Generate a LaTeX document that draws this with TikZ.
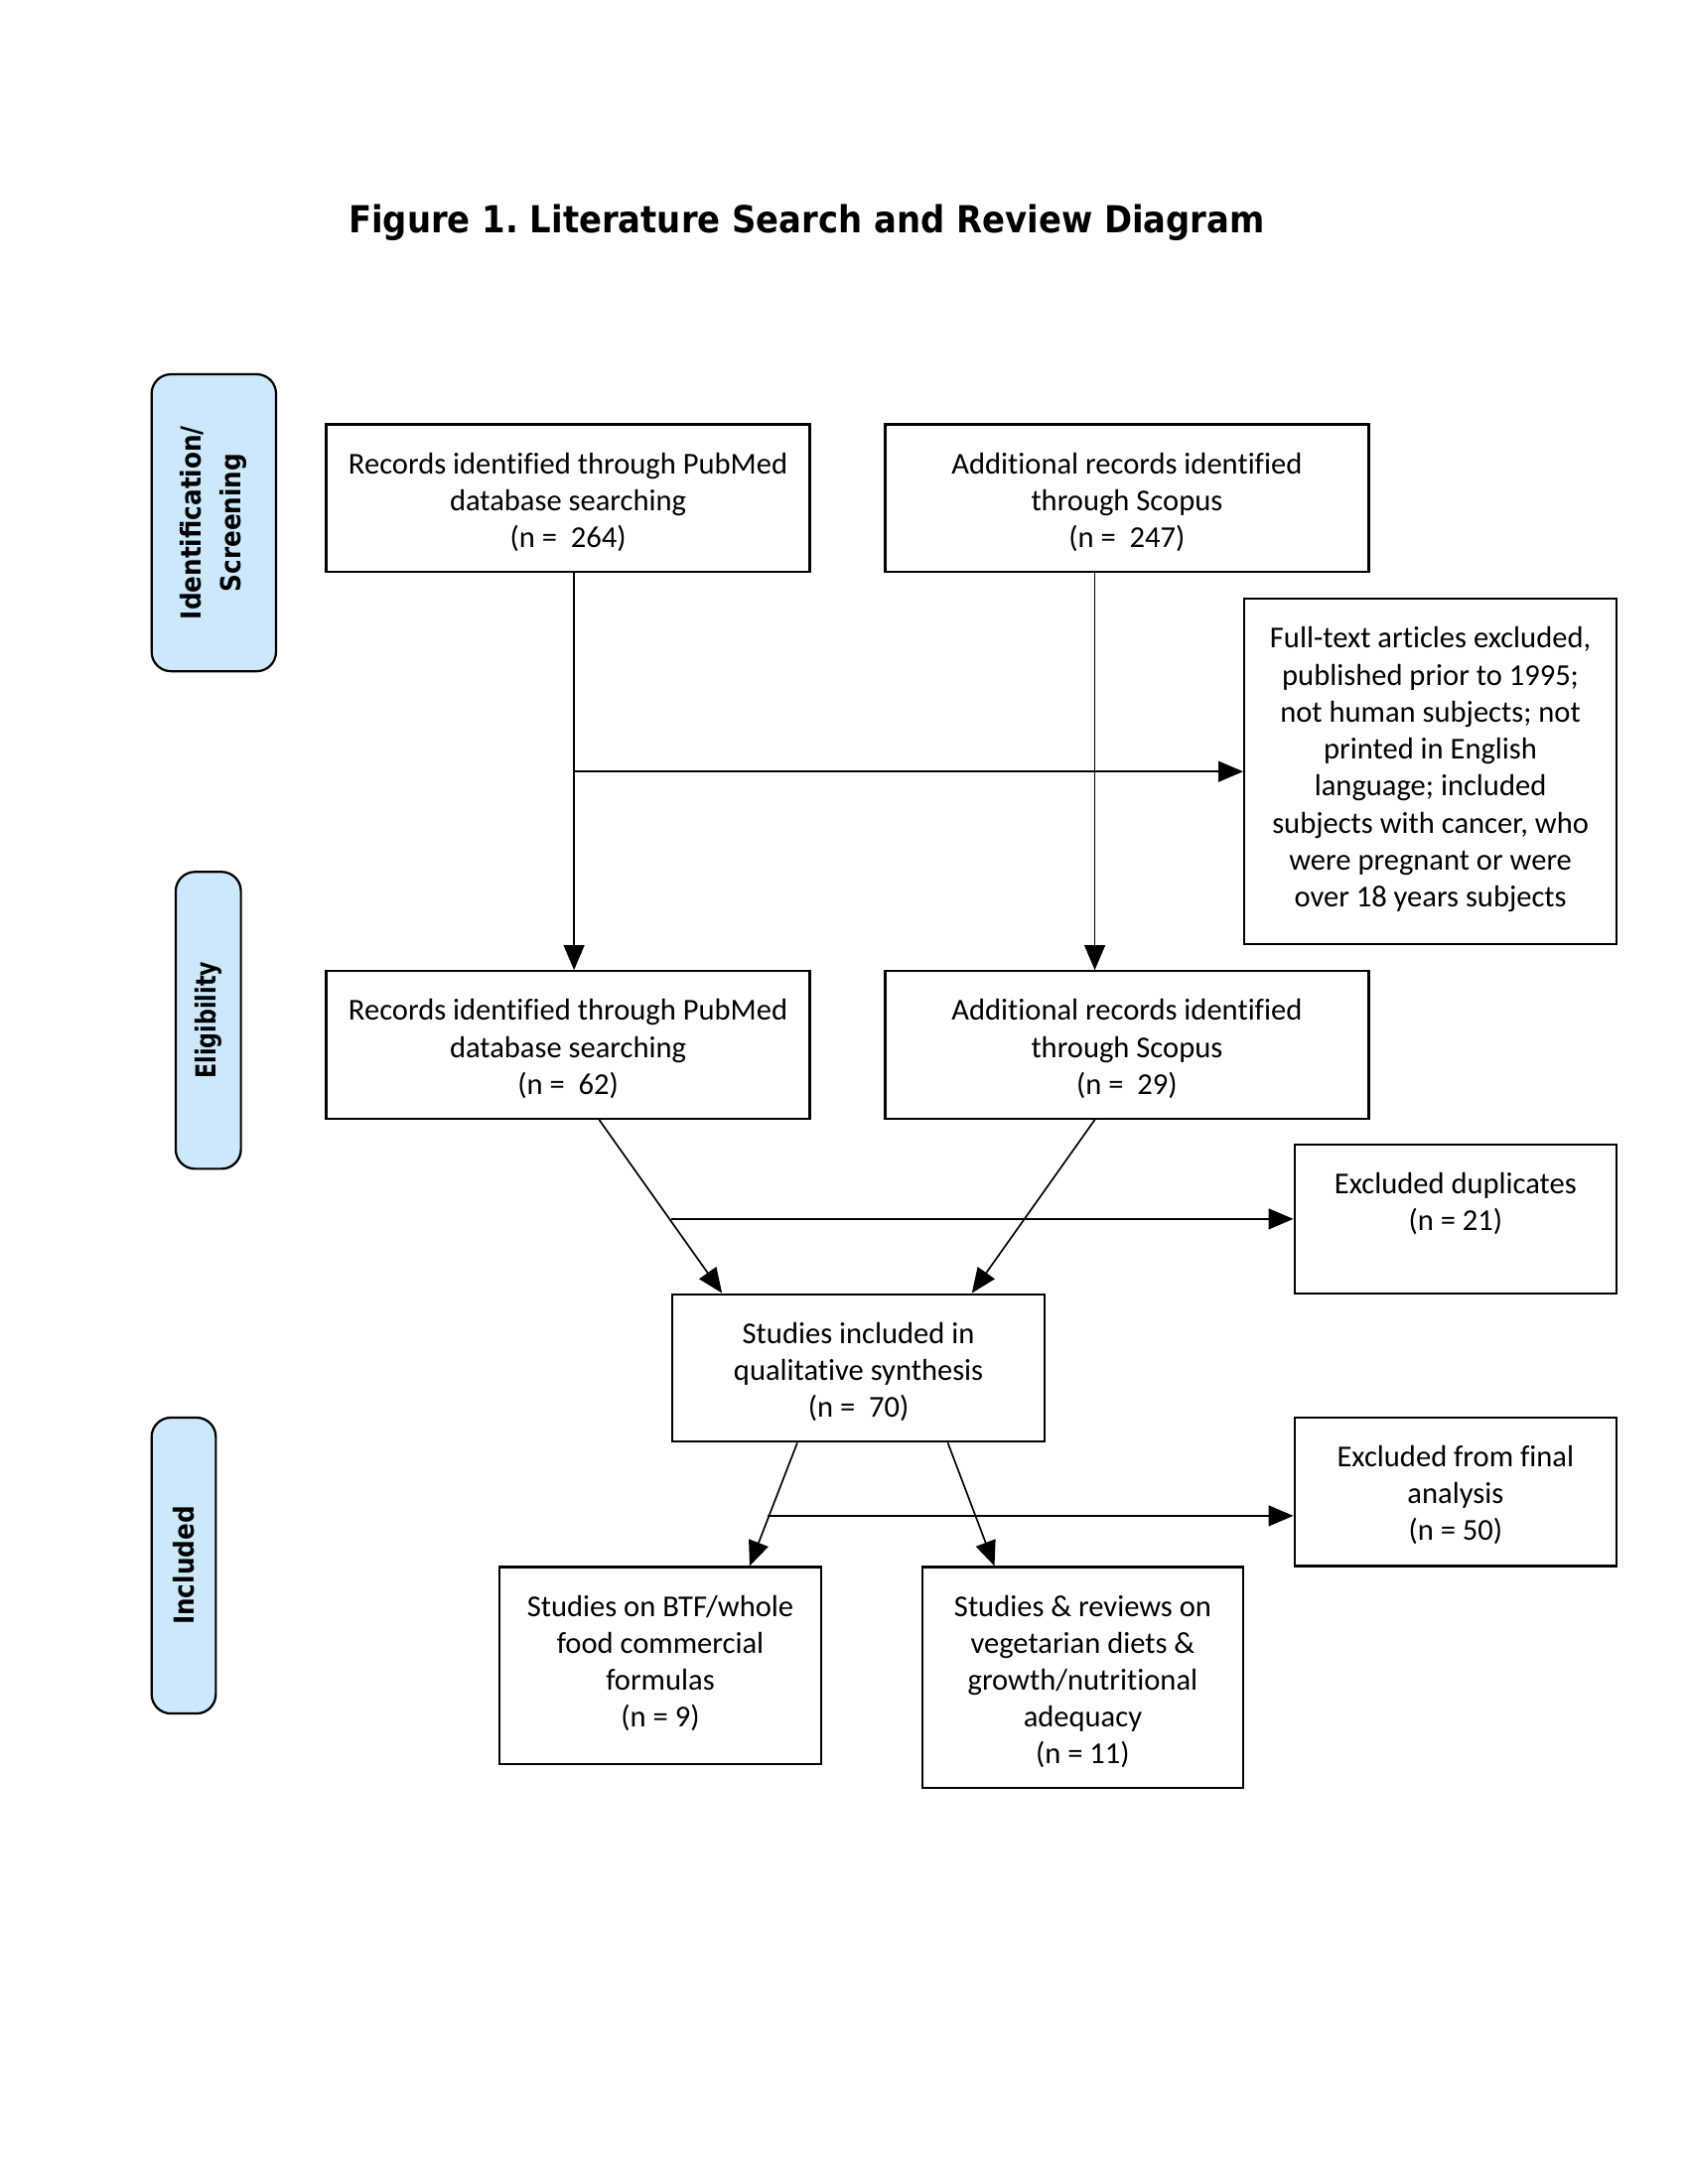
\documentclass[tikz,border=0pt]{standalone}
\usepackage{fontspec}
\setmainfont{Carlito}[Ligatures=CommonOff]
\newfontfamily\dejavubold[BoldFont={DejaVu Sans Bold}]{DejaVu Sans}
\usetikzlibrary{arrows.meta,calc}
\definecolor{sideblue}{RGB}{204,232,250}
\def\PXU{0.3638pt}
\frenchspacing
\begin{document}
\begin{tikzpicture}[x=0.3638pt,y=-0.3638pt,
  box/.style={draw, line width=0.8pt, rectangle, inner sep=0pt, anchor=north west},
  txt/.style={align=center, font=\fontsize{11}{13.4}\selectfont, inner sep=0pt, anchor=north},
  side/.style={draw, line width=0.8pt, fill=sideblue, rounded corners=7pt, anchor=north west, inner sep=0pt},
  sidetxt/.style={rotate=90, align=center, font=\dejavubold\bfseries\fontsize{10}{14.4}\selectfont, inner sep=0pt},
  arr/.style={-{Triangle[length=9pt,width=7.5pt]}, line width=0.6pt},
  ln/.style={line width=0.6pt}]
\useasboundingbox (0,0) rectangle (1682.3,2177.1);

% title
\node[font=\dejavubold\bfseries\fontsize{13.5}{16}\selectfont, inner sep=0pt] (title) at (804,222) {\scalebox{0.903}[1]{Figure 1. Literature Search and Review Diagram}};

% side labels
\node[side, minimum width={124*\PXU}, minimum height={296*\PXU}] (ident) at (150,372) {};
\node[sidetxt] (identT) at (ident.center) {\scalebox{0.89}[1]{Identification/}\\\scalebox{0.89}[1]{Screening}};
\node[side, minimum width={65*\PXU}, minimum height={296*\PXU}] (elig) at (174,868) {};
\node[sidetxt] (eligT) at (elig.center) {\scalebox{0.8}[1]{Eligibility}};
\node[side, minimum width={64*\PXU}, minimum height={295*\PXU}] (incl) at (150,1412) {};
\node[sidetxt] (inclT) at (incl.center) {\scalebox{0.89}[1]{Included}};

% boxes
\node[box, minimum width={482*\PXU}, minimum height={147*\PXU}] (pub1) at (324,422) {};
\node[txt] (pub1T) at ([yshift=-10.4pt]pub1.north) {Records identified through PubMed\\database searching\\(n = \ 264)};
\node[box, minimum width={482*\PXU}, minimum height={147*\PXU}] (sco1) at (881,422) {};
\node[txt] (sco1T) at ([yshift=-10.4pt]sco1.north) {Additional records identified\\through Scopus\\(n = \ 247)};
\node[box, minimum width={371*\PXU}, minimum height={344*\PXU}] (full) at (1239,596) {};
\node[txt] (fullT) at ([yshift=-10.4pt]full.north) {Full-text articles excluded,\\published prior to 1995;\\not human subjects; not\\printed in English\\language; included\\subjects with cancer, who\\were pregnant or were\\over 18 years subjects};
\node[box, minimum width={482*\PXU}, minimum height={147*\PXU}] (pub2) at (324,967) {};
\node[txt] (pub2T) at ([yshift=-10.4pt]pub2.north) {Records identified through PubMed\\database searching\\(n = \ 62)};
\node[box, minimum width={482*\PXU}, minimum height={147*\PXU}] (sco2) at (881,967) {};
\node[txt] (sco2T) at ([yshift=-10.4pt]sco2.north) {Additional records identified\\through Scopus\\(n = \ 29)};
\node[box, minimum width={321*\PXU}, minimum height={148*\PXU}] (dup) at (1289,1140) {};
\node[txt] (dupT) at ([yshift=-10.4pt]dup.north) {Excluded duplicates\\(n = 21)};
\node[box, minimum width={371*\PXU}, minimum height={147*\PXU}] (stud) at (669,1289) {};
\node[txt] (studT) at ([yshift=-10.4pt]stud.north) {Studies included in\\qualitative synthesis\\(n = \ 70)};
\node[box, minimum width={321*\PXU}, minimum height={148*\PXU}] (fin) at (1289,1412) {};
\node[txt] (finT) at ([yshift=-10.4pt]fin.north) {Excluded from final\\analysis\\(n = 50)};
\node[box, minimum width={320*\PXU}, minimum height={196*\PXU}] (btf) at (497,1561) {};
\node[txt] (btfT) at ([yshift=-10.4pt]btf.north) {Studies on BTF/whole\\food commercial\\formulas\\(n = 9)};
\node[box, minimum width={320*\PXU}, minimum height={220*\PXU}] (veg) at (918,1561) {};
\node[txt] (vegT) at ([yshift=-10.4pt]veg.north) {Studies \& reviews on\\vegetarian diets \&\\growth/nutritional\\adequacy\\(n = 11)};

% connectors
\coordinate (p1s) at ([xshift={6*\PXU}]pub1.south);
\coordinate (p2n) at ([xshift={6*\PXU}]pub2.north);
\draw[arr] (p1s) -- (p2n);
\coordinate (s1s) at ([xshift={-32*\PXU}]sco1.south);
\coordinate (s2n) at ([xshift={-32*\PXU}]sco2.north);
\draw[arr] (s1s) -- (s2n);
\coordinate (j1) at (p1s |- full.west);
\draw[arr] (j1) -- (full.west);

\coordinate (p2s) at ([xshift={31*\PXU}]pub2.south);
\coordinate (stA) at ([xshift={-136*\PXU}]stud.north);
\draw[arr] (p2s) -- (stA);
\coordinate (s2s) at ([xshift={-32*\PXU}]sco2.south);
\coordinate (stB) at ([xshift={113*\PXU}]stud.north);
\draw[arr] (s2s) -- (stB);
\coordinate (j2) at (stud.west |- dup.west);
\draw[arr] (j2) -- (dup.west);

\coordinate (stC) at ([xshift={-61*\PXU}]stud.south);
\coordinate (btN) at ([xshift={89*\PXU}]btf.north);
\draw[arr] (stC) -- (btN);
\coordinate (stD) at ([xshift={89*\PXU}]stud.south);
\coordinate (veN) at ([xshift={-88*\PXU}]veg.north);
\draw[arr] (stD) -- (veN);
\coordinate (j3) at (765,1511);
\coordinate (fW) at (fin.west |- j3);
\draw[arr] (j3) -- (fW);
\end{tikzpicture}
\end{document}
